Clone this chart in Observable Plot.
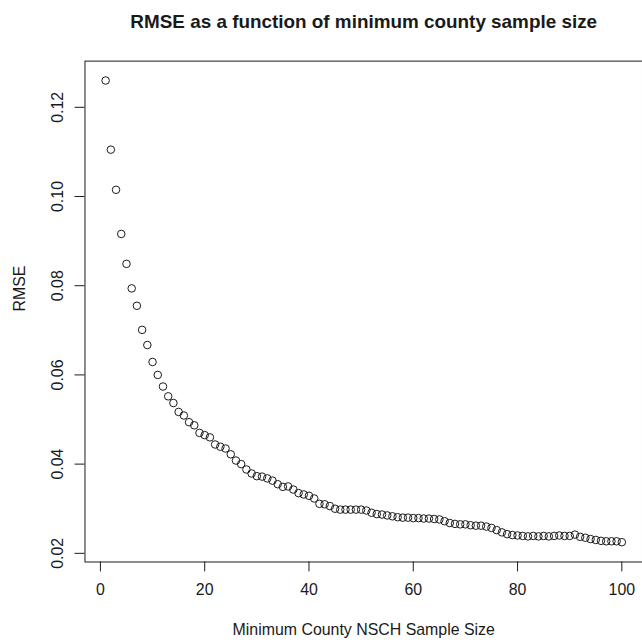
<!DOCTYPE html>
<html>
<head>
<meta charset="utf-8">
<script src="https://cdn.jsdelivr.net/npm/d3@7"></script>
<script src="https://cdn.jsdelivr.net/npm/@observablehq/plot@0.6"></script>
<style>
  html, body { margin: 0; padding: 0; overflow: hidden; background: white; }
  #chart svg { display: block; }
</style>
</head>
<body>
<div id="chart"></div>
<script>
const titleText = "RMSE as a function of minimum county sample size";
const xLabel = "Minimum County NSCH Sample Size";
const yLabel = "RMSE";

const sampleSize = [
  1, 2, 3, 4, 5, 6, 7, 8, 9, 10,
  11, 12, 13, 14, 15, 16, 17, 18, 19, 20,
  21, 22, 23, 24, 25, 26, 27, 28, 29, 30,
  31, 32, 33, 34, 35, 36, 37, 38, 39, 40,
  41, 42, 43, 44, 45, 46, 47, 48, 49, 50,
  51, 52, 53, 54, 55, 56, 57, 58, 59, 60,
  61, 62, 63, 64, 65, 66, 67, 68, 69, 70,
  71, 72, 73, 74, 75, 76, 77, 78, 79, 80,
  81, 82, 83, 84, 85, 86, 87, 88, 89, 90,
  91, 92, 93, 94, 95, 96, 97, 98, 99, 100
];

const rmse = [
  0.1260, 0.1105, 0.1015, 0.0916, 0.0849, 0.0794, 0.0755, 0.0701, 0.0667, 0.0629,
  0.0600, 0.0574, 0.0552, 0.0537, 0.0517, 0.0509, 0.0494, 0.0487, 0.0470, 0.0465,
  0.0460, 0.0444, 0.0439, 0.0435, 0.0422, 0.0408, 0.0400, 0.0388, 0.0379, 0.0373,
  0.0372, 0.0368, 0.0363, 0.0355, 0.0349, 0.0350, 0.0343, 0.0335, 0.0332, 0.0329,
  0.0323, 0.0311, 0.0310, 0.0306, 0.0300, 0.0298, 0.0298, 0.0298, 0.0298, 0.0298,
  0.0296, 0.0291, 0.0288, 0.0287, 0.0285, 0.0283, 0.0281, 0.0280, 0.0280, 0.0279,
  0.0279, 0.0278, 0.0278, 0.0277, 0.0276, 0.0272, 0.0268, 0.0266, 0.0265, 0.0265,
  0.0263, 0.0262, 0.0262, 0.0260, 0.0257, 0.0252, 0.0247, 0.0243, 0.0241, 0.0240,
  0.0239, 0.0238, 0.0239, 0.0238, 0.0239, 0.0238, 0.0239, 0.0240, 0.0239, 0.0239,
  0.0242, 0.0237, 0.0235, 0.0232, 0.0230, 0.0228, 0.0227, 0.0227, 0.0227, 0.0225
];

const xTicks = [0, 20, 40, 60, 80, 100];
const yTicks = [0.02, 0.04, 0.06, 0.08, 0.10, 0.12];

const data = sampleSize.map((n, i) => ({n, rmse: rmse[i]}));

const ink = "#1a1a1a";

const chart = Plot.plot({
  width: 646,
  height: 644,
  marginLeft: 85,
  marginRight: 0,
  marginTop: 61,
  marginBottom: 79,
  style: {fontFamily: "'Liberation Sans', Arial, Helvetica, sans-serif", fontSize: "16px", background: "white", color: ink},
  x: {domain: [-2.96, 103.96]},
  y: {domain: [0.01806, 0.13035]},
  marks: [
    Plot.frame({stroke: ink, strokeWidth: 1}),
    Plot.axisX({ticks: xTicks, tickSize: 10, tickPadding: 12, fontSize: 16, label: null, stroke: ink}),
    Plot.axisY({ticks: yTicks, tickFormat: d3.format(".2f"), tickRotate: -90, tickSize: 10, tickPadding: 12, fontSize: 16, label: null, stroke: ink}),
    Plot.dot(data, {x: "n", y: "rmse", r: 3.8, stroke: ink, strokeWidth: 1, fill: "none"}),
    Plot.text([titleText], {frameAnchor: "top", dy: -33, lineAnchor: "bottom", fontSize: 19, fontWeight: "bold", fill: ink}),
    Plot.text([xLabel], {frameAnchor: "bottom", dy: 73, lineAnchor: "bottom", fontSize: 16, fill: ink}),
    Plot.text([yLabel], {frameAnchor: "left", dx: -60, rotate: -90, lineAnchor: "bottom", fontSize: 16, fill: ink})
  ]
});

document.getElementById("chart").appendChild(chart);
</script>
</body>
</html>
